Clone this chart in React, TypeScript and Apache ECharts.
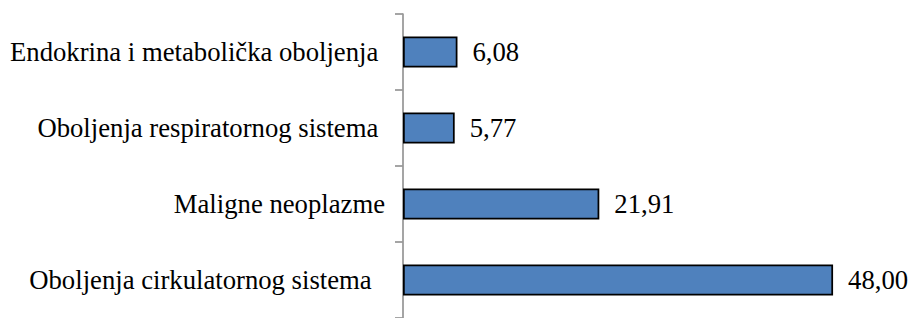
import React, { useEffect, useRef } from "react";
import * as echarts from "echarts";

const categories = [
  "Oboljenja cirkulatornog sistema  ",
  "Maligne neoplazme",
  "Oboljenja respiratornog sistema ",
  "Endokrina i metabolička oboljenja ",
];
const values = [48.0, 21.91, 5.77, 6.08];

const FONT = "'Liberation Serif', 'DejaVu Serif', 'Times New Roman', serif";

export default function App() {
  const ref = useRef<HTMLDivElement>(null);
  useEffect(() => {
    document.body.style.margin = "0";
    const chart = echarts.init(ref.current!, null, { renderer: "svg" });
    chart.setOption({
      animation: false,
      grid: { left: 403, right: 63, top: 14, bottom: -4, containLabel: false },
      xAxis: {
        type: "value",
        min: 0,
        max: 50,
        show: false,
      },
      yAxis: {
        type: "category",
        data: categories,
        axisLine: { show: true, lineStyle: { color: "#999999", width: 1.75 } },
        axisTick: { show: true, length: 8, lineStyle: { color: "#999999", width: 1.75 } },
        axisLabel: {
          margin: 18,
          color: "#000",
          fontFamily: FONT,
          fontSize: 26.7,
        },
      },
      series: [
        {
          type: "bar",
          data: values,
          barWidth: 31,
          itemStyle: { color: "#4F81BD", borderColor: "#000", borderWidth: 1.75 },
          label: {
            show: true,
            position: "right",
            distance: 15,
            color: "#000",
            fontFamily: FONT,
            fontSize: 26.7,
            formatter: (p: any) => p.value.toFixed(2).replace(".", ","),
          },
        },
      ],
    });
    return () => chart.dispose();
  }, []);
  return (
    <div
      ref={ref}
      style={{ position: "absolute", left: 0, top: 0, width: 914, height: 318 }}
    />
  );
}
